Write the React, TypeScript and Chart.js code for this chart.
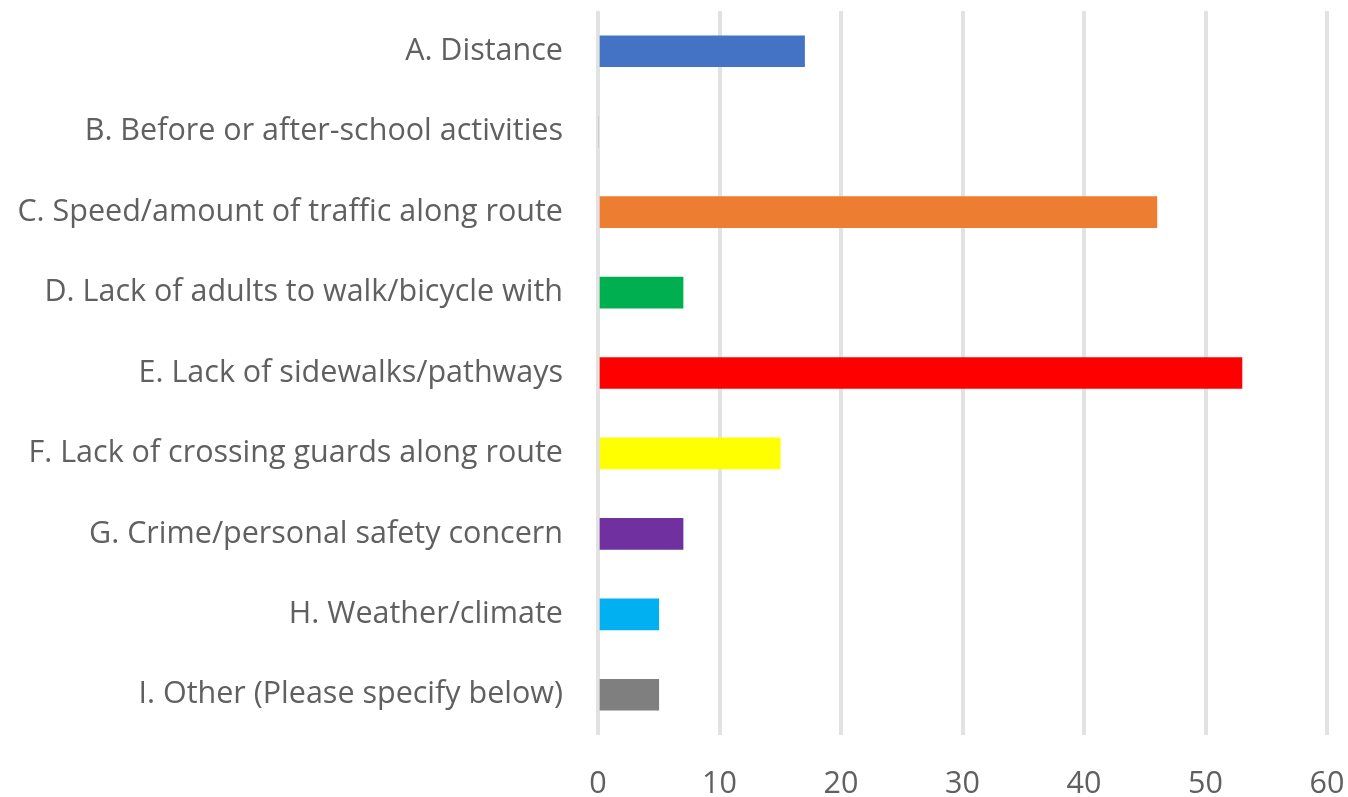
import React, { useEffect, useRef } from "react";
import { Chart, registerables } from "chart.js";

Chart.register(...registerables);

const categories = [
  "A. Distance",
  "B. Before or after-school activities",
  "C. Speed/amount of traffic along route",
  "D. Lack of adults to walk/bicycle with",
  "E. Lack of sidewalks/pathways",
  "F. Lack of crossing guards along route",
  "G. Crime/personal safety concern",
  "H. Weather/climate",
  "I. Other (Please specify below)",
];
const values = [17, 0, 46, 7, 53, 15, 7, 5, 5];
const barColors = [
  "#4472C4",
  "#A5A5A5",
  "#ED7D31",
  "#00B050",
  "#FF0000",
  "#FFFF00",
  "#7030A0",
  "#00B0F0",
  "#7F7F7F",
];
const xTicks = [0, 10, 20, 30, 40, 50, 60];

export default function App() {
  const ref = useRef<HTMLCanvasElement | null>(null);
  useEffect(() => {
    if (!ref.current) return;
    const font = { family: "'Open Sans', sans-serif", size: 30.5 };
    const zeroPad = (scale: any) => {
      scale.paddingTop = 0;
      scale.paddingBottom = 0;
      scale.paddingLeft = 0;
      scale.paddingRight = 0;
    };
    const chart = new Chart(ref.current, {
      type: "bar",
      data: {
        labels: categories,
        datasets: [
          {
            data: values,
            backgroundColor: barColors,
            borderWidth: 0,
            barThickness: 31,
          },
        ],
      },
      options: {
        indexAxis: "y",
        animation: false,
        responsive: false,
        maintainAspectRatio: false,
        layout: { padding: { top: 11, right: 21, left: 0, bottom: 0 } },
        plugins: { legend: { display: false }, tooltip: { enabled: false } },
        scales: {
          x: {
            min: 0,
            max: 60,
            afterBuildTicks: (scale: any) => {
              scale.ticks = xTicks.map((v) => ({ value: v }));
            },
            afterFit: (scale: any) => {
              scale.height = 62;
              zeroPad(scale);
            },
            grid: { color: "#e2e2e2", lineWidth: 4, drawTicks: false },
            border: { display: false },
            ticks: { color: "#606060", font, padding: 31, maxRotation: 0 },
          },
          y: {
            afterFit: (scale: any) => {
              scale.width = 598;
              zeroPad(scale);
            },
            grid: { display: false, drawTicks: false },
            border: { display: false },
            ticks: { color: "#606060", font, padding: 35 },
          },
        },
      },
    });
    return () => chart.destroy();
  }, []);
  return (
    <div style={{ position: "fixed", left: 0, top: 0, width: 1348, height: 797, background: "#fff" }}>
      <canvas ref={ref} width={1348} height={797} style={{ width: 1348, height: 797 }} />
    </div>
  );
}
